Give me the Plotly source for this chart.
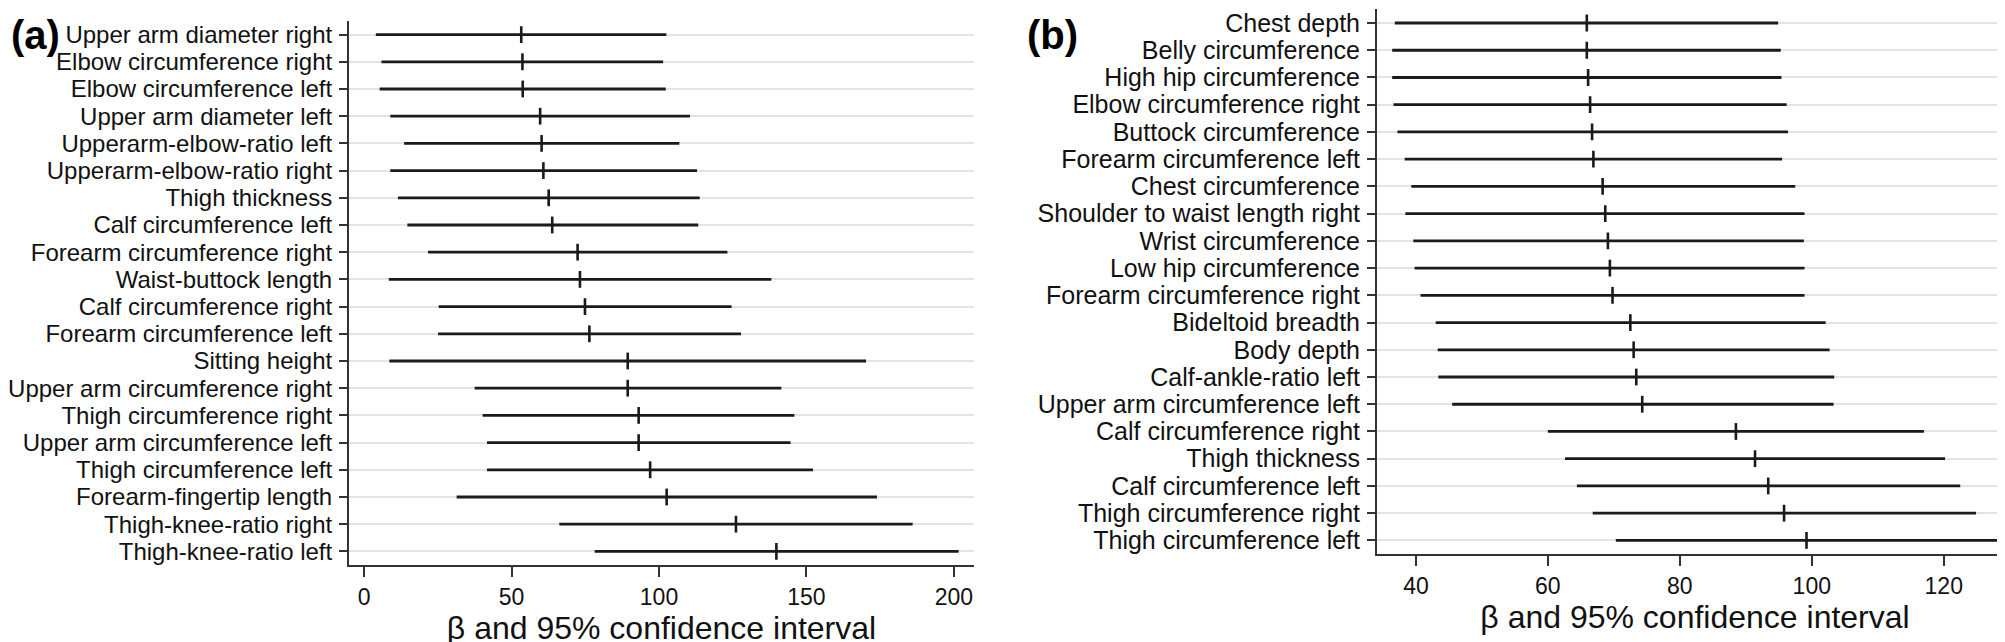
import plotly.graph_objects as go

# ---- Panel (a) data ----
cats_a = [
    "Upper arm diameter right", "Elbow circumference right", "Elbow circumference left",
    "Upper arm diameter left", "Upperarm-elbow-ratio left", "Upperarm-elbow-ratio right",
    "Thigh thickness", "Calf circumference left", "Forearm circumference right",
    "Waist-buttock length", "Calf circumference right", "Forearm circumference left",
    "Sitting height", "Upper arm circumference right", "Thigh circumference right",
    "Upper arm circumference left", "Thigh circumference left", "Forearm-fingertip length",
    "Thigh-knee-ratio right", "Thigh-knee-ratio left",
]
est_a = [53.3, 53.7, 53.8, 59.7, 60.2, 60.8, 62.6, 63.8, 72.4, 73.2,
         74.9, 76.4, 89.4, 89.4, 93.1, 93.1, 97.0, 102.6, 126.1, 139.8]
lo_a = [4.0, 5.9, 5.3, 8.9, 13.6, 8.9, 11.5, 14.7, 21.7, 8.4,
        25.3, 25.1, 8.6, 37.5, 40.2, 41.7, 41.7, 31.4, 66.2, 78.2]
hi_a = [102.5, 101.4, 102.3, 110.5, 106.9, 112.9, 113.8, 113.3, 123.2, 138.1,
        124.6, 127.8, 170.2, 141.5, 145.9, 144.6, 152.2, 173.9, 186.0, 201.6]
ticks_a = [0, 50, 100, 150, 200]

# ---- Panel (b) data ----
cats_b = [
    "Chest depth", "Belly circumference", "High hip circumference", "Elbow circumference right",
    "Buttock circumference", "Forearm circumference left", "Chest circumference",
    "Shoulder to waist length right", "Wrist circumference", "Low hip circumference",
    "Forearm circumference right", "Bideltoid breadth", "Body depth", "Calf-ankle-ratio left",
    "Upper arm circumference left", "Calf circumference right", "Thigh thickness",
    "Calf circumference left", "Thigh circumference right", "Thigh circumference left",
]
est_b = [65.9, 65.9, 66.1, 66.4, 66.7, 66.9, 68.3, 68.7, 69.1, 69.4,
         69.8, 72.5, 73.0, 73.4, 74.3, 88.5, 91.4, 93.4, 95.8, 99.2]
lo_b = [36.8, 36.4, 36.4, 36.6, 37.2, 38.3, 39.3, 38.4, 39.6, 39.8,
        40.7, 43.0, 43.3, 43.4, 45.5, 60.0, 62.6, 64.4, 66.8, 70.3]
hi_b = [94.9, 95.3, 95.4, 96.2, 96.4, 95.5, 97.5, 98.9, 98.8, 98.9,
        98.9, 102.1, 102.7, 103.4, 103.3, 117.0, 120.2, 122.5, 124.9, 128.3]
ticks_b = [40, 60, 80, 100, 120]

axis_title = "β and 95% confidence interval"
FONT = "Liberation Sans, Arial, sans-serif"
INK = "#1a1a1a"

fig = go.Figure()


def add_panel(cats, est, lo, hi, xa, ya):
    xs, ys = [], []
    for c, l, h in zip(cats, lo, hi):
        xs += [l, h, None]
        ys += [c, c, None]
    fig.add_trace(go.Scatter(x=xs, y=ys, mode="lines", xaxis=xa, yaxis=ya,
                             line=dict(color=INK, width=2.8), showlegend=False,
                             hoverinfo="skip"))
    fig.add_trace(go.Scatter(x=est, y=cats, mode="markers", xaxis=xa, yaxis=ya,
                             marker=dict(symbol="line-ns", size=12,
                                         line=dict(color=INK, width=2.6)),
                             showlegend=False))


add_panel(cats_a, est_a, lo_a, hi_a, "x", "y")
add_panel(cats_b, est_b, lo_b, hi_b, "x2", "y2")


def xaxis_style(standoff):
    return dict(showgrid=False, zeroline=False, showline=True, linecolor="#333333",
                linewidth=2, ticks="outside", ticklen=10, tickwidth=1.5, tickcolor="#333333",
                automargin=False,
                tickfont=dict(family=FONT, size=23, color="#111111"),
                title=dict(text=axis_title, font=dict(family=FONT, size=32, color="#111111"),
                           standoff=standoff))


def yaxis_style(cats, size):
    return dict(type="category", showgrid=True, gridcolor="#e3e3e3", gridwidth=2,
                zeroline=False, showline=True, linecolor="#333333", linewidth=2,
                ticks="outside", ticklen=8, tickwidth=1.5, tickcolor="#333333",
                automargin=False,
                tickmode="array", tickvals=cats, ticktext=cats,
                categoryorder="array", categoryarray=cats,
                tickfont=dict(family=FONT, size=size, color="#111111"), ticklabelstandoff=2)


fig.update_layout(
    width=2005, height=642,
    margin=dict(l=0, r=0, t=0, b=0),
    paper_bgcolor="white", plot_bgcolor="white",
    xaxis=dict(domain=[341 / 2005, 966 / 2005], range=[-5.1, 206.8],
               tickvals=ticks_a, anchor="y", **xaxis_style(6)),
    yaxis=dict(domain=[1 - 557 / 642, 1 - 13 / 642], range=[19.5, -0.5],
               anchor="x", **yaxis_style(cats_a, 24)),
    xaxis2=dict(domain=[1369 / 2005, 1.0], range=[34.1, 130.5],
                tickvals=ticks_b, anchor="y2", **xaxis_style(8)),
    yaxis2=dict(domain=[1 - 546 / 642, 1 - 1.4 / 642], range=[19.5, -0.5],
                anchor="x2", **yaxis_style(cats_b, 25)),
    annotations=[
        dict(text="<b>(a)</b>", x=1 / 2005, y=1 - 27 / 642, xref="paper", yref="paper",
             xanchor="left", yanchor="middle", showarrow=False,
             font=dict(family=FONT, size=40, color="#000000")),
        dict(text="<b>(b)</b>", x=1017 / 2005, y=1 - 27 / 642, xref="paper", yref="paper",
             xanchor="left", yanchor="middle", showarrow=False,
             font=dict(family=FONT, size=40, color="#000000")),
    ],
)

fig.write_html("out.html")
